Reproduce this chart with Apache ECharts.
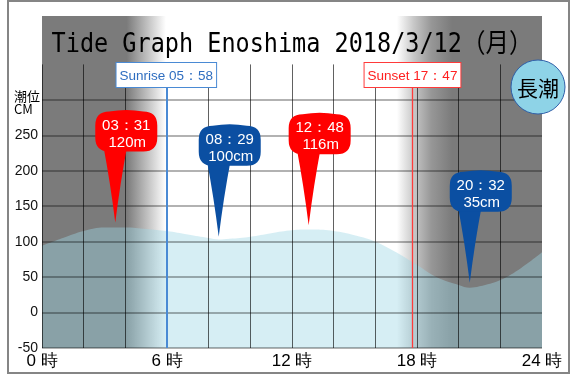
<!DOCTYPE html>
<html><head><meta charset="utf-8">
<script src="https://cdn.jsdelivr.net/npm/echarts@6/dist/echarts.min.js"></script>
<style>html,body{margin:0;padding:0;background:#fff}#c{width:573px;height:376px}</style>
</head><body><div id="c"></div>
<script>
// ---- data ----
const titleText = 'Tide Graph Enoshima 2018/3/12（月）';
const tideBadge = '長潮';
const yAxisTitle = '潮位\nCM';
const tideHours  = [0, 1, 2, 3, 3.517, 4, 5, 6, 7, 8, 8.483, 9, 10, 11, 12, 12.8, 13, 14, 15, 16, 17, 18, 19, 20, 20.533, 21, 22, 23, 24];
const tideLevels = [94, 105, 115, 120, 120, 120, 118, 115, 110, 105, 103, 104, 107, 112, 116, 117, 117, 115, 109, 100, 85, 67, 49, 39, 35, 37, 46, 63, 85];
const extremeHours  = [3.517, 8.483, 12.8, 20.533];
const extremeLevels = [120, 100, 116, 35];
const extremeTimes  = ['03：31', '08：29', '12：48', '20：32'];
const extremeTexts  = ['120m', '100cm', '116m', '35cm'];
const extremeKinds  = ['high', 'low', 'high', 'low'];
const sunHours  = [5.967, 17.783];
const sunLabels = ['Sunrise 05：58', 'Sunset 17：47'];
const xTickHours = [0, 6, 12, 18, 24];
const yTickLabels = [-50, 0, 50, 100, 150, 200, 250];
const hGridLevels = [-50, 0, 50, 100, 150, 200, 250, 300];
const vGridHours  = [0, 2, 4, 6, 8, 10, 12, 14, 16, 18, 20, 22];

// ---- chart ----
const Y_MIN = -50, Y_MAX = 418.3, GRID_TOP_LEVEL = 350, SUN_LINE_TOP = 318;
const NARROW = '"Liberation Sans Narrow","Liberation Sans",sans-serif';
const chart = echarts.init(document.getElementById('c'));

const dark = '#7b7b7b';
const bgGradient = {
  type: 'linear', x: 0, y: 0, x2: 1, y2: 0,
  colorStops: [
    {offset: 0, color: dark},
    {offset: (sunHours[0] - 1.9) / 24, color: dark},
    {offset: (sunHours[0] - 0.02) / 24, color: '#ffffff'},
    {offset: (sunHours[1] - 0.75) / 24, color: '#ffffff'},
    {offset: (sunHours[1] + 0.05) / 24, color: '#c8c8c8'},
    {offset: (sunHours[1] + 0.9) / 24, color: '#979797'},
    {offset: (sunHours[1] + 1.9) / 24, color: dark},
    {offset: 1, color: dark}
  ]
};

const gridLines = [];
hGridLevels.forEach(v => gridLines.push([
  {coord: [0, v], lineStyle: {color: 'rgba(0,0,0,0.3)', width: 2, type: 'solid'}},
  {coord: [24, v]}
]));
vGridHours.forEach(h => gridLines.push([
  {coord: [h, Y_MIN], lineStyle: {color: 'rgba(0,0,0,0.62)', width: 1, type: 'solid'}},
  {coord: [h, GRID_TOP_LEVEL]}
]));

const sunColors = ['#2f6ec0', '#ff2020'];
const sunLineColors = ['#4a8ad4', '#ff3a3a'];
const sunLines = sunHours.map((h, i) => [
  {coord: [h, Y_MIN], lineStyle: {color: sunLineColors[i], width: i === 0 ? 2 : 1.3, type: 'solid'},
   label: {show: true, position: 'end', distance: 0, formatter: sunLabels[i],
     color: sunColors[i], fontSize: 13.5, fontFamily: NARROW, backgroundColor: '#fff',
     borderColor: sunLineColors[i], borderWidth: 1, padding: [6, 3, 4, 3]}},
  {coord: [h, SUN_LINE_TOP]}
]);

function balloon(params, api) {
  const i = params.dataIndex;
  const p = api.coord([api.value(0), api.value(1)]);
  const tx = p[0], ty = p[1] - 5;
  const color = extremeKinds[i] === 'high' ? '#ff0000' : '#0b4fa2';
  const L = tx - 20, R = tx + 42, T = ty - 111, B = ty - 71, r = 14;
  const body = `M${L + r},${T} Q${(L + R) / 2},${T - 3} ${R - r},${T} Q${R},${T} ${R},${T + r} L${R},${B - r} Q${R},${B} ${R - r},${B} L${L + r},${B} Q${L},${B} ${L},${B - r} L${L},${T + r} Q${L},${T} ${L + r},${T} Z`;
  const tail = `M${tx - 12},${B - 6} L${tx + 12},${B - 6} Q${tx + 5},${ty - 40} ${tx},${ty} Q${tx - 5},${ty - 40} ${tx - 12},${B - 6} Z`;
  return {
    type: 'group',
    children: [
      {type: 'path', shape: {pathData: tail}, style: {fill: color}},
      {type: 'path', shape: {pathData: body}, style: {fill: color}},
      {type: 'text', style: {text: extremeTimes[i], x: tx + 11, y: ty - 97, fill: '#fff', fontSize: 15, fontFamily: NARROW, align: 'center', verticalAlign: 'middle'}},
      {type: 'text', style: {text: extremeTexts[i], x: tx + 12, y: ty - 80, fill: '#fff', fontSize: 15, fontFamily: NARROW, align: 'center', verticalAlign: 'middle'}}
    ]
  };
}

chart.setOption({
  animation: false,
  grid: {left: 42, right: 31, top: 16, bottom: 28},
  xAxis: {type: 'value', min: 0, max: 24, interval: 6,
    axisLine: {show: false}, axisTick: {show: false}, splitLine: {show: false},
    axisLabel: {margin: 5, fontSize: 17, fontFamily: NARROW, color: '#000',
      formatter: v => xTickHours.indexOf(v) >= 0 ? v + ' 時' : ''}},
  yAxis: {type: 'value', min: Y_MIN, max: Y_MAX, interval: 50,
    axisLine: {show: false}, axisTick: {show: false}, splitLine: {show: false},
    axisLabel: {margin: 4, fontSize: 14, fontFamily: NARROW, color: '#111',
      formatter: v => yTickLabels.indexOf(v) >= 0 ? String(v) : ''}},
  series: [
    {type: 'line', z: 0, data: [], silent: true,
     markArea: {silent: true, itemStyle: {color: bgGradient},
       data: [[{coord: [0, Y_MIN]}, {coord: [24, Y_MAX]}]]}},
    {type: 'line', z: 1, data: [], silent: true,
     markLine: {silent: true, symbol: ['none', 'none'], label: {show: false}, data: gridLines}},
    {type: 'line', z: 2, smooth: 0.4, symbol: 'none', silent: true,
     data: tideHours.map((h, i) => [h, tideLevels[i]]),
     lineStyle: {width: 0},
     areaStyle: {color: 'rgba(158,215,228,0.6)', origin: 'start'}},
    {type: 'line', z: 3, data: [], silent: true,
     markLine: {silent: true, symbol: ['none', 'none'], data: sunLines}},
    {type: 'custom', z: 5, renderItem: balloon, silent: true,
     data: extremeHours.map((h, i) => [h, extremeLevels[i]])}
  ],
  graphic: [
    {type: 'rect', z: 100, silent: true, shape: {x: 8, y: 1, width: 561, height: 372},
     style: {fill: 'none', stroke: '#858585', lineWidth: 2}},
    {type: 'text', z: 100, x: 292, y: 45, scaleY: 1.12,
     style: {text: titleText, fill: '#000', fontSize: 23.5, fontFamily: '"DejaVu Sans Mono","Noto Sans CJK JP",monospace',
       align: 'center', verticalAlign: 'middle', textAlign: 'center', textVerticalAlign: 'middle'}},
    {type: 'circle', z: 100, shape: {cx: 538, cy: 87, r: 27},
     style: {fill: '#8ed3e7', stroke: '#2f5fa8', lineWidth: 1}},
    {type: 'text', z: 101, x: 538, y: 88,
     style: {text: tideBadge, fill: '#000', fontSize: 21, fontFamily: '"Noto Sans CJK JP",sans-serif',
       align: 'center', verticalAlign: 'middle', textAlign: 'center', textVerticalAlign: 'middle'}},
    {type: 'text', z: 100, x: 14, y: 90,
     style: {text: yAxisTitle, fill: '#000', fontSize: 13, lineHeight: 13, fontFamily: '"Noto Sans CJK JP",sans-serif',
       align: 'left', verticalAlign: 'top', textAlign: 'left', textVerticalAlign: 'top'}}
  ]
});
</script>
</body></html>
